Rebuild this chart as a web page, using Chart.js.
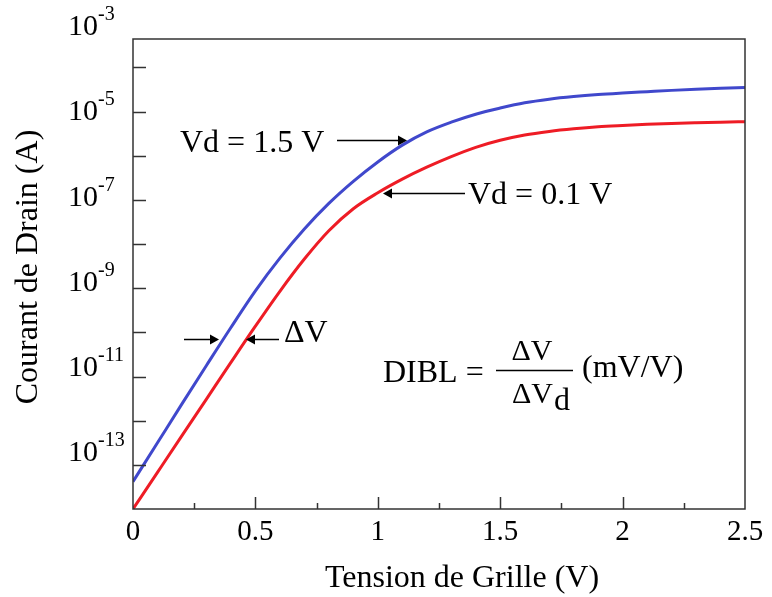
<!DOCTYPE html>
<html>
<head>
<meta charset="utf-8">
<script src="https://cdn.jsdelivr.net/npm/chart.js@4.4.1/dist/chart.umd.min.js"></script>
<style>
  html, body { margin: 0; padding: 0; background: #fff; }
  #c { display: block; }
</style>
</head>
<body>
<canvas id="c" width="772" height="597"></canvas>
<script>
// Gate voltage (V)
const gateVoltage = [0, 0.1, 0.2, 0.3, 0.4, 0.5, 0.6, 0.7, 0.8, 0.9, 1.0, 1.1, 1.2,
  1.3, 1.4, 1.5, 1.6, 1.7, 1.8, 1.9, 2.0, 2.1, 2.2, 2.3, 2.4, 2.5];
// Drain current (A) for Vd = 1.5 V
const drainCurrentVd15 = [4.17e-14, 3.16e-13, 2.40e-12, 1.78e-11, 1.29e-10, 8.71e-10,
  4.79e-9, 2.19e-8, 8.32e-8, 2.63e-7, 7.24e-7, 1.74e-6, 3.47e-6, 5.75e-6, 8.71e-6,
  1.20e-5, 1.58e-5, 1.91e-5, 2.19e-5, 2.43e-5, 2.63e-5, 2.82e-5, 3.02e-5, 3.20e-5,
  3.37e-5, 3.52e-5];
// Drain current (A) for Vd = 0.1 V
const drainCurrentVd01 = [1.0e-14, 6.76e-14, 4.57e-13, 3.09e-12, 2.09e-11, 1.38e-10,
  8.51e-10, 4.57e-9, 2.00e-8, 6.31e-8, 1.45e-7, 2.95e-7, 5.50e-7, 9.55e-7, 1.55e-6,
  2.24e-6, 2.95e-6, 3.55e-6, 4.07e-6, 4.52e-6, 4.84e-6, 5.13e-6, 5.37e-6, 5.56e-6,
  5.73e-6, 5.89e-6];
// Axis tick labels
const xTickValues = [0, 0.5, 1, 1.5, 2, 2.5];
const xMinorTickValues = [0.25, 0.75, 1.25, 1.75, 2.25];
const yTickExponents = [-13, -12, -11, -10, -9, -8, -7, -6, -5, -4];
const yLabelExponents = [-3, -5, -7, -9, -11, -13];

const SERIF = '"Liberation Serif", "Times New Roman", serif';

function toPoints(xs, ys) { return xs.map((x, i) => ({ x: x, y: ys[i] })); }

function arrow(ctx, x1, y1, x2, y2) {
  ctx.save();
  ctx.strokeStyle = '#000';
  ctx.fillStyle = '#000';
  ctx.lineWidth = 1.5;
  const dir = Math.sign(x2 - x1);
  ctx.beginPath();
  ctx.moveTo(x1, y1);
  ctx.lineTo(x2 - dir * 6, y2);
  ctx.stroke();
  ctx.beginPath();
  ctx.moveTo(x2, y2);
  ctx.lineTo(x2 - dir * 9, y2 - 5);
  ctx.lineTo(x2 - dir * 9, y2 + 5);
  ctx.closePath();
  ctx.fill();
  ctx.restore();
}

const decorPlugin = {
  id: 'decor',
  afterDatasetsDraw(chart) {
    const ctx = chart.ctx;
    const a = chart.chartArea;
    const xs = chart.scales.x, ys = chart.scales.y;
    ctx.save();
    ctx.strokeStyle = '#333';
    ctx.lineWidth = 1.5;
    ctx.strokeRect(a.left, a.top, a.right - a.left, a.bottom - a.top);
    yTickExponents.forEach(e => {
      const py = Math.round(ys.getPixelForValue(Math.pow(10, e))) + 0.5;
      ctx.beginPath(); ctx.moveTo(a.left, py); ctx.lineTo(a.left + 13, py); ctx.stroke();
    });
    xTickValues.slice(1, -1).forEach(v => {
      const px = Math.round(xs.getPixelForValue(v)) + 0.5;
      ctx.beginPath(); ctx.moveTo(px, a.bottom); ctx.lineTo(px, a.bottom - 12); ctx.stroke();
    });
    xMinorTickValues.forEach(v => {
      const px = Math.round(xs.getPixelForValue(v)) + 0.5;
      ctx.beginPath(); ctx.moveTo(px, a.bottom); ctx.lineTo(px, a.bottom - 6); ctx.stroke();
    });
    ctx.restore();
  },
  afterDraw(chart) {
    const ctx = chart.ctx;
    const ys = chart.scales.y;
    ctx.save();
    ctx.fillStyle = '#000';
    yLabelExponents.forEach(e => {
      const tick = ys.getPixelForValue(Math.pow(10, e));
      const base = tick + 12 - 1.55 * (-e - 3);
      ctx.font = '30px ' + SERIF;
      ctx.textAlign = 'right';
      ctx.textBaseline = 'alphabetic';
      ctx.fillText('10', 98, base);
      ctx.font = '20px ' + SERIF;
      ctx.textAlign = 'left';
      ctx.fillText(String(e), 98, base - 15);
    });
    ctx.font = '32px ' + SERIF;
    ctx.textAlign = 'center';
    ctx.textBaseline = 'alphabetic';
    ctx.fillText('Tension de Grille (V)', 462, 587);
    ctx.save();
    ctx.translate(37, 267);
    ctx.rotate(-Math.PI / 2);
    ctx.fillText('Courant de Drain (A)', 0, 0);
    ctx.restore();
    ctx.textAlign = 'left';
    ctx.fillText('Vd = 1.5 V', 180, 152);
    arrow(ctx, 337, 140.5, 407, 140.5);
    ctx.fillText('Vd = 0.1 V', 468, 204);
    arrow(ctx, 465, 193.5, 383, 193.5);
    arrow(ctx, 184, 339.5, 219, 339.5);
    arrow(ctx, 279, 339.5, 246, 339.5);
    ctx.fillText('\u0394V', 284, 342);
    ctx.fillText('DIBL =', 383, 382);
    ctx.strokeStyle = '#000';
    ctx.lineWidth = 1.5;
    ctx.beginPath(); ctx.moveTo(496, 370.5); ctx.lineTo(573, 370.5); ctx.stroke();
    ctx.font = '30px ' + SERIF;
    ctx.textAlign = 'center';
    ctx.fillText('\u0394V', 532, 360);
    ctx.textAlign = 'left';
    ctx.fillText('\u0394V', 512, 403);
    const w = ctx.measureText('\u0394V').width;
    ctx.font = '32px ' + SERIF;
    ctx.fillText('d', 512 + w + 1, 410);
    ctx.fillText('(mV/V)', 582, 377);
    ctx.restore();
  }
};

new Chart(document.getElementById('c'), {
  type: 'line',
  data: {
    datasets: [
      {
        label: 'Vd = 1.5 V',
        data: toPoints(gateVoltage, drainCurrentVd15),
        borderColor: '#4048cc',
        borderWidth: 3,
        pointRadius: 0,
        cubicInterpolationMode: 'monotone',
        fill: false
      },
      {
        label: 'Vd = 0.1 V',
        data: toPoints(gateVoltage, drainCurrentVd01),
        borderColor: '#ee1c25',
        borderWidth: 3,
        pointRadius: 0,
        cubicInterpolationMode: 'monotone',
        fill: false
      }
    ]
  },
  options: {
    responsive: false,
    devicePixelRatio: 1,
    animation: false,
    events: [],
    layout: { padding: { top: 39, right: 27, left: 0, bottom: 0 } },
    plugins: { legend: { display: false }, tooltip: { enabled: false }, title: { display: false } },
    scales: {
      x: {
        type: 'linear',
        min: 0,
        max: 2.5,
        afterFit: s => { s.height = 88; },
        afterBuildTicks: s => { s.ticks = xTickValues.map(v => ({ value: v })); },
        grid: { display: false, drawTicks: false },
        border: { display: false },
        ticks: {
          autoSkip: false,
          maxRotation: 0,
          padding: 6,
          color: '#000',
          font: { family: SERIF, size: 29 },
          callback: v => String(v)
        }
      },
      y: {
        type: 'logarithmic',
        min: 1e-14,
        max: 4.4e-4,
        afterFit: s => { s.width = 133; },
        grid: { display: false, drawTicks: false },
        border: { display: false },
        ticks: { display: false }
      }
    }
  },
  plugins: [decorPlugin]
});
</script>
</body>
</html>
